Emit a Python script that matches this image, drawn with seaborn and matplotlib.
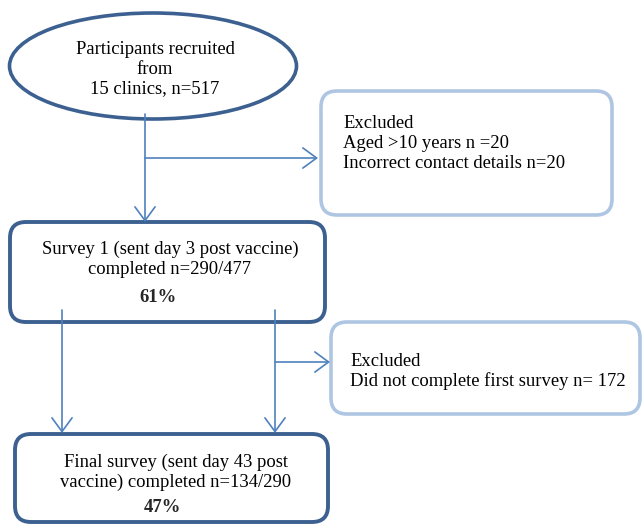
import matplotlib
matplotlib.use("Agg")
import matplotlib.pyplot as plt
import seaborn as sns
from matplotlib.patches import Ellipse, FancyBboxPatch

# flowchart text
start_lines = ["Participants recruited", "from", "15 clinics, n=517"]
excl1_lines = ["Excluded", "Aged >10 years n =20", "Incorrect contact details n=20"]
survey1_lines = ["Survey 1 (sent day 3 post vaccine)", "completed n=290/477"]
survey1_pct = "61%"
excl2_lines = ["Excluded", "Did not complete first survey n= 172"]
final_lines = ["Final survey (sent day 43 post", "vaccine) completed n=134/290"]
final_pct = "47%"

DARK = "#3C6191"
LIGHT = "#AFC6E3"
ARROW = "#4F81BD"
FS = 13.4

sns.set_style("white")
plt.rcParams["font.family"] = ["Liberation Serif", "DejaVu Serif"]

fig = plt.figure(figsize=(6.42, 5.24), dpi=100)
ax = fig.add_axes([0, 0, 1, 1])
ax.set_xlim(0, 642)
ax.set_ylim(524, 0)
ax.axis("off")


def rbox(x, y, w, h, color, lw):
    ax.add_patch(FancyBboxPatch((x, y), w, h, boxstyle="round,pad=0,rounding_size=16",
                                fill=False, edgecolor=color, linewidth=lw, zorder=2))


def lines(xs, y0, texts, ha="center", step=20):
    for i, t in enumerate(texts):
        ax.text(xs, y0 + i * step, t, ha=ha, va="center", fontsize=FS, color="black")


def arrow(x0, y0, x1, y1):
    ax.annotate("", xy=(x1, y1), xytext=(x0, y0),
                arrowprops=dict(arrowstyle="->,head_length=0.45,head_width=0.33", color=ARROW,
                                lw=1.2, shrinkA=0, shrinkB=0, mutation_scale=22))


# top ellipse
ax.add_patch(Ellipse((153, 66), 287, 106, fill=False, edgecolor=DARK, linewidth=2.6))
lines(155, 49, start_lines)

# ellipse -> survey 1 and branch to exclusion
arrow(145, 114, 145, 222)
arrow(145, 158, 318, 158)

rbox(321, 91, 291, 124, LIGHT, 2.6)
lines(343, 124, excl1_lines, ha="left")

# survey 1 box
rbox(10, 222, 315, 100, DARK, 2.8)
lines(170, 249, survey1_lines)
ax.text(158, 297, survey1_pct, ha="center", va="center", fontsize=FS, fontweight="bold")

# survey 1 -> final, plus exclusion branch
arrow(62, 310, 62, 433)
arrow(275, 310, 275, 433)
arrow(275, 362, 330, 362)

rbox(331, 322, 309, 92, LIGHT, 2.6)
lines(350, 361, excl2_lines, ha="left")

# final survey box
rbox(15, 434, 313, 88, DARK, 2.8)
lines(176, 462, final_lines)
ax.text(162, 508, final_pct, ha="center", va="center", fontsize=FS, fontweight="bold")

fig.savefig("out.png", dpi=100)
